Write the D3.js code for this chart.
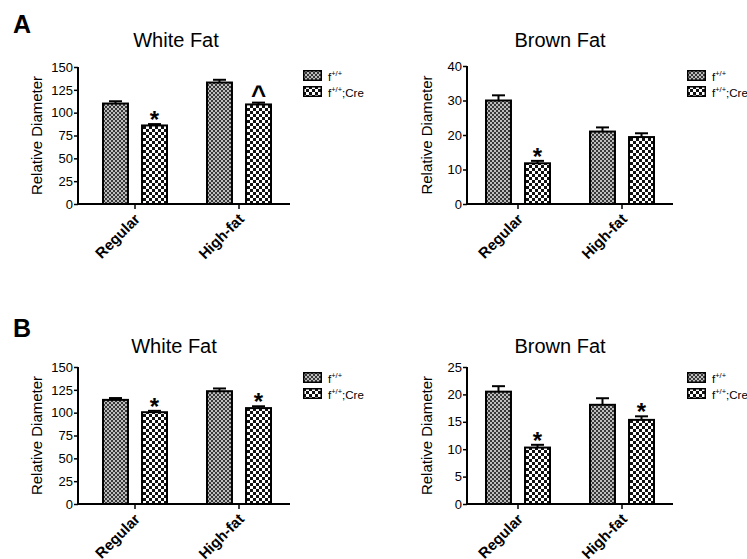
<!DOCTYPE html>
<html>
<head>
<meta charset="utf-8">
<script src="https://cdn.jsdelivr.net/npm/d3@7"></script>
<style>
  body { margin: 0; background: #fff; }
  svg { display: block; font-family: Arial, "Liberation Sans", Helvetica, sans-serif; }
</style>
</head>
<body>
<svg id="fig" width="747" height="559"></svg>
<script>
// ---- data ----
const categories = ["Regular", "High-fat"];
const seriesKeys = ["wt", "cre"];

// A: white fat (relative diameter, mean and SEM)
const aWhiteWT = [110, 133];
const aWhiteWTErr = [2.5, 3];
const aWhiteCre = [86, 109];
const aWhiteCreErr = [1.5, 2];
const aWhiteMarks = ["*", "^"];
const aWhiteTicks = [0, 25, 50, 75, 100, 125, 150];

// A: brown fat
const aBrownWT = [30, 21];
const aBrownWTErr = [1.5, 1.2];
const aBrownCre = [11.8, 19.4];
const aBrownCreErr = [0.7, 1.1];
const aBrownMarks = ["*", ""];
const aBrownTicks = [0, 10, 20, 30, 40];

// B: white fat
const bWhiteWT = [114, 123.5];
const bWhiteWTErr = [2, 3];
const bWhiteCre = [100.5, 105];
const bWhiteCreErr = [1.5, 2];
const bWhiteMarks = ["*", "*"];
const bWhiteTicks = [0, 25, 50, 75, 100, 125, 150];

// B: brown fat
const bBrownWT = [20.5, 18.1];
const bBrownWTErr = [1, 1.2];
const bBrownCre = [10.3, 15.35];
const bBrownCreErr = [0.5, 0.65];
const bBrownMarks = ["*", "*"];
const bBrownTicks = [0, 5, 10, 15, 20, 25];

// ---- layout of the four panels ----
const panels = [
  { letter: "A", title: "White Fat", wt: aWhiteWT, wtErr: aWhiteWTErr, cre: aWhiteCre, creErr: aWhiteCreErr,
    marks: aWhiteMarks, ticks: aWhiteTicks,
    x0: 78, x1: 290, bandStart: 83, yTop: 67, yBot: 204, titleX: 176, titleY: 47, ylabX: 42, legX: 303, legY: 70 },
  { letter: "", title: "Brown Fat", wt: aBrownWT, wtErr: aBrownWTErr, cre: aBrownCre, creErr: aBrownCreErr,
    marks: aBrownMarks, ticks: aBrownTicks,
    x0: 467, x1: 673, bandStart: 466, yTop: 66, yBot: 204, titleX: 560, titleY: 47, ylabX: 432, legX: 687, legY: 70 },
  { letter: "B", title: "White Fat", wt: bWhiteWT, wtErr: bWhiteWTErr, cre: bWhiteCre, creErr: bWhiteCreErr,
    marks: bWhiteMarks, ticks: bWhiteTicks,
    x0: 78, x1: 290, bandStart: 83, yTop: 367, yBot: 504, titleX: 174, titleY: 353, ylabX: 42, legX: 303, legY: 372 },
  { letter: "", title: "Brown Fat", wt: bBrownWT, wtErr: bBrownWTErr, cre: bBrownCre, creErr: bBrownCreErr,
    marks: bBrownMarks, ticks: bBrownTicks,
    x0: 467, x1: 673, bandStart: 466, yTop: 367, yBot: 504, titleX: 560, titleY: 353, ylabX: 432, legX: 687, legY: 372 }
];
const letterPos = { A: [13, 33], B: [13, 337] };

const svg = d3.select("#fig");

// fill patterns: fine grey dither for the control, coarse checkerboard for Cre
const defs = svg.append("defs");
const fine = defs.append("pattern").attr("id", "patWT").attr("patternUnits", "userSpaceOnUse")
  .attr("width", 4).attr("height", 4);
fine.append("rect").attr("width", 4).attr("height", 4).attr("fill", "#bdbdbd");
fine.append("rect").attr("width", 2).attr("height", 2).attr("fill", "#383838");
fine.append("rect").attr("x", 2).attr("y", 2).attr("width", 2).attr("height", 2).attr("fill", "#383838");

const coarse = defs.append("pattern").attr("id", "patCre").attr("patternUnits", "userSpaceOnUse")
  .attr("width", 6).attr("height", 6);
coarse.append("rect").attr("width", 6).attr("height", 6).attr("fill", "#ffffff");
coarse.append("rect").attr("width", 3).attr("height", 3).attr("fill", "#111");
coarse.append("rect").attr("x", 3).attr("y", 3).attr("width", 3).attr("height", 3).attr("fill", "#111");

const fills = { wt: "url(#patWT)", cre: "url(#patCre)" };

panels.forEach(p => {
  const g = svg.append("g");

  const x = d3.scaleBand().domain(categories).range([p.bandStart, p.bandStart + 208]);
  const inner = d3.scaleBand().domain(seriesKeys).range([20, 84]).paddingInner(0.36);
  const y = d3.scaleLinear().domain([0, d3.max(p.ticks)]).range([p.yBot, p.yTop]);

  // title and panel letter
  g.append("text").attr("x", p.titleX).attr("y", p.titleY).attr("text-anchor", "middle")
    .attr("font-size", 20).attr("fill", "#000").text(p.title);
  if (p.letter) {
    g.append("text").attr("x", letterPos[p.letter][0]).attr("y", letterPos[p.letter][1])
      .attr("font-size", 25).attr("font-weight", "bold").text(p.letter);
  }

  // y axis
  const yAxis = g.append("g").attr("transform", `translate(${p.x0},0)`)
    .call(d3.axisLeft(y).tickValues(p.ticks).tickSize(4).tickSizeOuter(0).tickPadding(1));
  yAxis.select(".domain").attr("stroke-width", 2).attr("d", `M0,${p.yTop}V${p.yBot + 1}`);
  yAxis.selectAll(".tick line").attr("stroke-width", 1.5);
  yAxis.selectAll(".tick text").attr("font-size", 13).attr("fill", "#000").attr("font-family", null);

  g.append("text")
    .attr("transform", `translate(${p.ylabX},${(p.yTop + p.yBot) / 2}) rotate(-90)`)
    .attr("text-anchor", "middle").attr("font-size", 15).text("Relative Diameter");

  // bars
  const rows = categories.map((c, i) => ({
    cat: c,
    items: [
      { key: "wt", v: p.wt[i], e: p.wtErr[i], mark: "" },
      { key: "cre", v: p.cre[i], e: p.creErr[i], mark: p.marks[i] }
    ]
  }));

  const grp = g.selectAll("g.cat").data(rows).join("g").attr("class", "cat")
    .attr("transform", d => `translate(${x(d.cat)},0)`);

  const bar = grp.selectAll("g.bar").data(d => d.items).join("g").attr("class", "bar");

  // error bars (upper half only)
  bar.append("line")
    .attr("x1", d => inner(d.key) + inner.bandwidth() / 2)
    .attr("x2", d => inner(d.key) + inner.bandwidth() / 2)
    .attr("y1", d => y(d.v)).attr("y2", d => y(d.v + d.e))
    .attr("stroke", "#000").attr("stroke-width", 2);
  bar.append("line")
    .attr("x1", d => inner(d.key) + inner.bandwidth() / 2 - 6.5)
    .attr("x2", d => inner(d.key) + inner.bandwidth() / 2 + 6.5)
    .attr("y1", d => y(d.v + d.e)).attr("y2", d => y(d.v + d.e))
    .attr("stroke", "#000").attr("stroke-width", 2);

  bar.append("rect")
    .attr("x", d => inner(d.key))
    .attr("width", inner.bandwidth())
    .attr("y", d => y(d.v))
    .attr("height", d => p.yBot - y(d.v))
    .attr("fill", d => fills[d.key])
    .attr("stroke", "#000").attr("stroke-width", 2);

  // significance marks
  bar.filter(d => d.mark).append("text")
    .attr("x", d => inner(d.key) + inner.bandwidth() / 2)
    .attr("y", d => y(d.v + d.e) + (d.mark === "*" ? 4 : 1))
    .attr("text-anchor", "middle").attr("font-weight", "bold")
    .attr("font-size", d => d.mark === "*" ? 24 : 26)
    .text(d => d.mark);

  // x axis
  const xAxis = g.append("g").attr("transform", `translate(0,${p.yBot})`)
    .call(d3.axisBottom(x).tickSize(5).tickSizeOuter(0));
  xAxis.select(".domain").attr("stroke-width", 2).attr("d", `M${p.x0 - 1},0H${p.x1}`);
  xAxis.selectAll(".tick line").attr("stroke-width", 1.5);
  xAxis.selectAll(".tick text")
    .attr("x", 0).attr("y", 0).attr("dy", 0)
    .attr("transform", "translate(6,16) rotate(-45)")
    .attr("text-anchor", "end").attr("font-size", 15).attr("font-weight", "bold")
    .attr("fill", "#000").attr("font-family", null);

  // legend
  const leg = g.append("g").attr("transform", `translate(${p.legX},${p.legY})`);
  seriesKeys.forEach((k, i) => {
    const row = leg.append("g").attr("transform", `translate(0,${i * 16})`);
    row.append("rect").attr("x", 0.75).attr("y", 0.75).attr("width", 17.5).attr("height", 9.5)
      .attr("fill", fills[k]).attr("stroke", "#000").attr("stroke-width", 1.5);
    const t = row.append("text").attr("x", 25).attr("y", 10.5).attr("font-size", 11.5).attr("fill", "#000");
    t.append("tspan").text("f");
    t.append("tspan").attr("dy", -4.5).attr("font-size", 7.5).text("+/+");
    if (k === "cre") t.append("tspan").attr("dy", 4.5).text(";Cre");
  });
});
</script>
</body>
</html>
